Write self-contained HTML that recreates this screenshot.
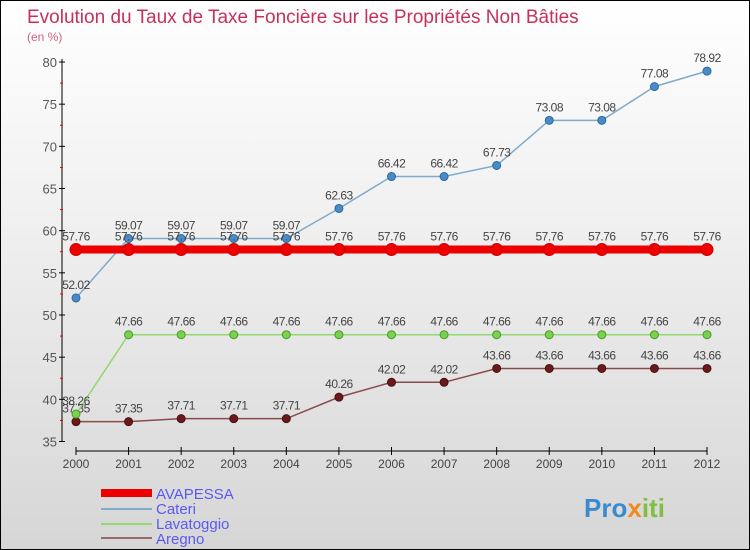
<!DOCTYPE html>
<html><head><meta charset="utf-8"><style>
body{margin:0}
#c{width:750px;height:550px;position:relative;overflow:hidden;box-sizing:border-box;border:1px solid #000;background:linear-gradient(#fff 0%,#f0f0f0 40%,#d6d6d6 100%);font-family:"Liberation Sans",sans-serif}
</style></head><body>
<div id="c">
<svg width="750" height="550" style="position:absolute;left:0;top:0" id="svg">
<text x="26" y="22" font-size="19" fill="#c8305a">Evolution du Taux de Taxe Foncière sur les Propriétés Non Bâties</text>
<text x="26" y="40" font-size="12" fill="#d06080">(en %)</text>
<g id="axes"></g><g id="series"></g>
<g>
<rect x="100" y="488" width="51" height="8" fill="#e00"/>
<text x="155" y="498" font-size="15" fill="#5a5af0">AVAPESSA</text>
<rect x="100" y="507" width="51" height="2" fill="#80aacc"/>
<text x="155" y="513" font-size="15" fill="#5a5af0">Cateri</text>
<rect x="100" y="522" width="51" height="2" fill="#90d870"/>
<text x="155" y="528" font-size="15" fill="#5a5af0">Lavatoggio</text>
<rect x="100" y="536" width="51" height="2" fill="#9a6a6a"/>
<text x="155" y="543" font-size="15" fill="#5a5af0">Aregno</text>
</g>
<text x="583" y="516" font-size="26" font-weight="bold" fill="#3a8ad0">Pro<tspan fill="#f08a20">x</tspan><tspan fill="#80c040">iti</tspan></text>
</svg>
</div>
<script>
const years=[2000,2001,2002,2003,2004,2005,2006,2007,2008,2009,2010,2011,2012];
const yTicks=[35,40,45,50,55,60,65,70,75,80];
const avapessa=[57.76,57.76,57.76,57.76,57.76,57.76,57.76,57.76,57.76,57.76,57.76,57.76,57.76];
const cateri=[52.02,59.07,59.07,59.07,59.07,62.63,66.42,66.42,67.73,73.08,73.08,77.08,78.92];
const lavatoggio=[38.26,47.66,47.66,47.66,47.66,47.66,47.66,47.66,47.66,47.66,47.66,47.66,47.66];
const aregno=[37.35,37.35,37.71,37.71,37.71,40.26,42.02,42.02,43.66,43.66,43.66,43.66,43.66];
const NS="http://www.w3.org/2000/svg";
const xs=i=>75+i*(706-75)/(years.length-1);
const ys=v=>61+(80-v)*(440.5-61)/45;
function mk(p,tag,a){const e=document.createElementNS(NS,tag);for(const k in a)e.setAttribute(k,a[k]);p.appendChild(e);return e;}
const ax=document.getElementById('axes');
let yl=mk(ax,'line',{x1:61,y1:58,x2:61,y2:441,stroke:'#000'});


yTicks.forEach(t=>{
 mk(ax,'line',{x1:58,x2:64,y1:ys(t),y2:ys(t),stroke:'#000'});
 if(t<80)mk(ax,'line',{x1:59,x2:62,y1:ys(t+2.5),y2:ys(t+2.5),stroke:'#e00'});
 const tx=mk(ax,'text',{x:56,y:ys(t)+5,'font-size':13,fill:'#555','text-anchor':'end'});
 tx.textContent=t;
 
 
});
let xl=mk(ax,'line',{x1:75,y1:450,x2:706,y2:450,stroke:'#000'});


years.forEach((y,i)=>{
 mk(ax,'line',{x1:xs(i),x2:xs(i),y1:446,y2:454,stroke:'#000'});
 const tx=mk(ax,'text',{x:xs(i),y:467,'font-size':12,fill:'#444','text-anchor':'middle'});
 tx.textContent=y;
 
 
});
const sg=document.getElementById('series');
function series(name,vals,color,w,r,dot,fill){
 const g=mk(sg,'g',{});
 
 
 mk(g,'polyline',{points:vals.map((v,i)=>xs(i)+','+ys(v)).join(' '),fill:'none',stroke:color,'stroke-width':w});
 vals.forEach((v,i)=>{
  const c=mk(g,'circle',{cx:xs(i),cy:ys(v),r:r,fill:fill,stroke:dot,'stroke-width':1});
  
  
  const t=mk(g,'text',{x:xs(i),y:ys(v)-9,'font-size':12,fill:'#444','text-anchor':'middle','letter-spacing':'-0.5'});
  t.textContent=String(v).replace('.','.');
  
  
 });
}
series('aregno',aregno,'#8a4a4a',1.5,4,'#4a1010','#6a1a1a');
series('lavatoggio',lavatoggio,'#90d870',1.5,4,'#4a9a2a','#7ad050');
series('cateri',cateri,'#80aacc',1.5,4,'#2a6a9a','#4a8ac8');
series('avapessa',avapessa,'#e00',8,6,'#c00','#e00');
</script>
</body></html>
